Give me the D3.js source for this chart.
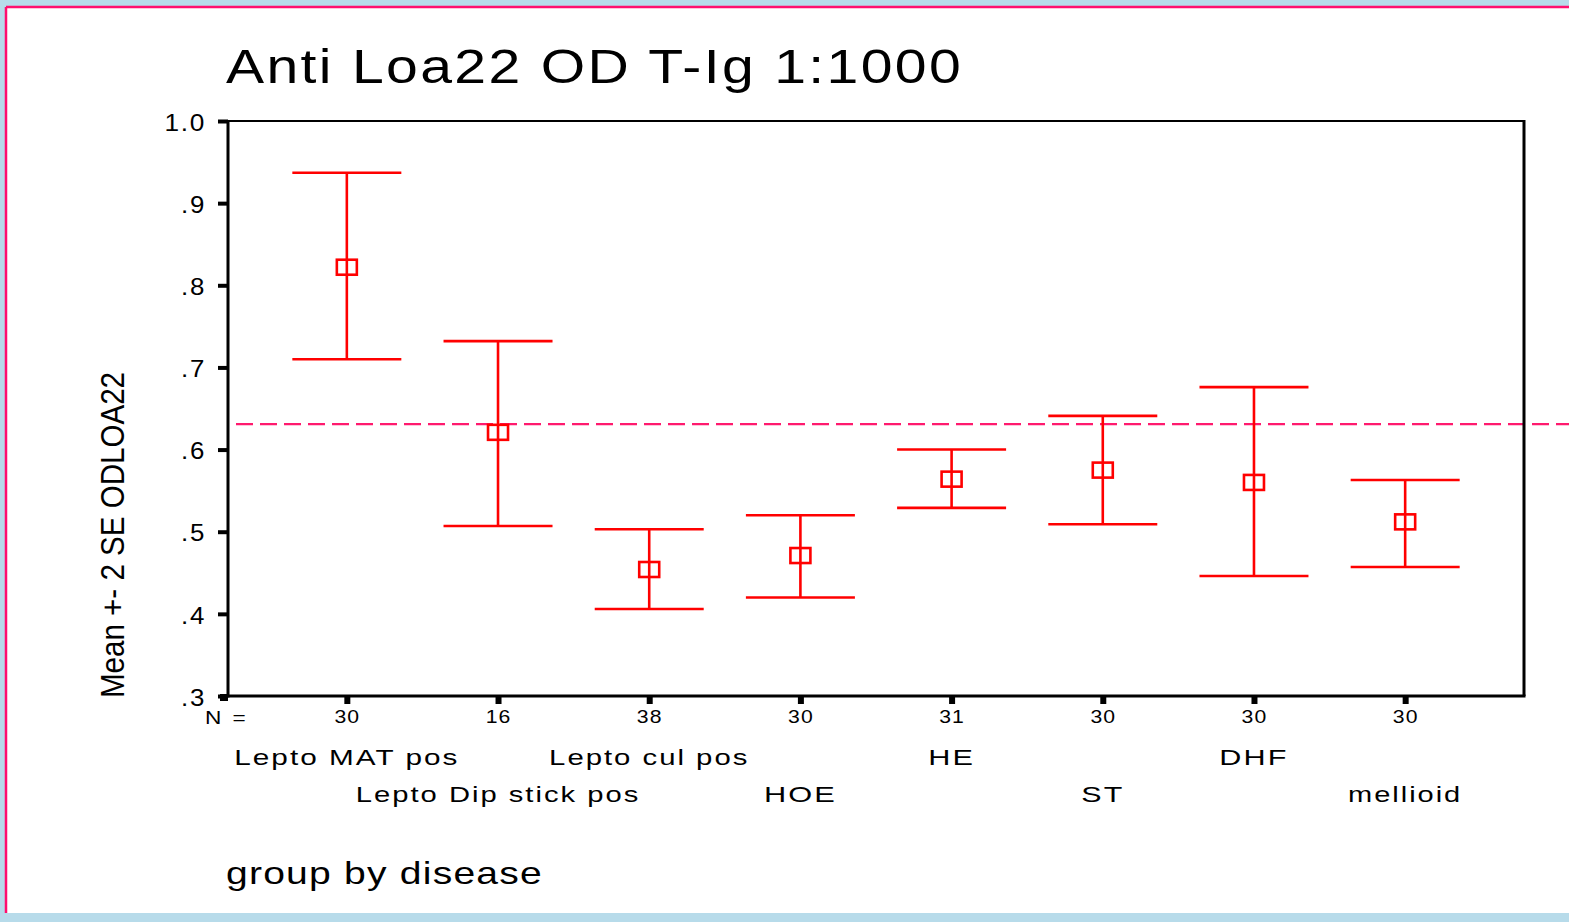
<!DOCTYPE html>
<html><head><meta charset="utf-8">
<script src="https://cdn.jsdelivr.net/npm/d3@7"></script>
<style>
html,body{margin:0;padding:0;background:#b7dbea;}
svg{display:block;}
text{font-family:"Liberation Sans",Arial,sans-serif;fill:#000;}
</style></head><body>
<svg id="c" width="1569" height="922"></svg>
<script>
const categories = ["Lepto MAT pos","Lepto Dip stick pos","Lepto cul pos","HOE","HE","ST","DHF","mellioid"];
const nValues = [30,16,38,30,31,30,30,30];
const means = [0.822,0.621,0.454,0.471,0.564,0.575,0.560,0.512];
const upper = [0.937,0.732,0.503,0.520,0.600,0.641,0.676,0.563];
const lower = [0.710,0.507,0.406,0.420,0.529,0.509,0.446,0.457];
const yTicks = [0.3,0.4,0.5,0.6,0.7,0.8,0.9,1.0];
const yTickLabels = [".3",".4",".5",".6",".7",".8",".9","1.0"];
const refLine = 0.631;
const title = "Anti Loa22 OD T-Ig 1:1000";
const xTitle = "group by disease";
const yTitle = "Mean +- 2 SE ODLOA22";

const svg = d3.select("#c");
function stretch(sel, k, ls){
  sel.each(function(){
    const w = this.getComputedTextLength();
    d3.select(this).attr("letter-spacing", ls||0).attr("textLength", w*k).attr("lengthAdjust","spacingAndGlyphs");
  });
}
// panel
svg.append("rect").attr("x",6).attr("y",7).attr("width",1563).attr("height",906).attr("fill","#fff");
svg.append("line").attr("x1",6).attr("x2",1569).attr("y1",7).attr("y2",7).attr("stroke","#ff0f6e").attr("stroke-width",2.5);
svg.append("line").attr("x1",6).attr("x2",6).attr("y1",7).attr("y2",913).attr("stroke","#ff0f6e").attr("stroke-width",2.5);

const L=228, R=1524, T=121, B=696;
const x = d3.scalePoint().domain(categories).range([L,R]).padding(0.786);
const y = d3.scaleLinear().domain([0.3,1.0]).range([B,T]);

// dashed ref line
svg.append("line").attr("x1",236).attr("x2",1569).attr("y1",y(refLine)).attr("y2",y(refLine))
  .attr("stroke","#ff1a6e").attr("stroke-width",2.3).attr("stroke-dasharray","17,7");

// frame
svg.append("line").attr("x1",L).attr("x2",R).attr("y1",T).attr("y2",T).attr("stroke","#000").attr("stroke-width",2);
svg.append("line").attr("x1",R).attr("x2",R).attr("y1",T-1).attr("y2",B).attr("stroke","#000").attr("stroke-width",3);
svg.append("line").attr("x1",L).attr("x2",L).attr("y1",T-1).attr("y2",B+1.5).attr("stroke","#000").attr("stroke-width",3);
svg.append("line").attr("x1",L).attr("x2",R+1.5).attr("y1",B).attr("y2",B).attr("stroke","#000").attr("stroke-width",3);

// y axis ticks
const yAxis = d3.axisLeft(y).tickValues(yTicks).tickSize(10).tickPadding(12)
  .tickFormat((d,i)=>yTickLabels[i]);
const gy = svg.append("g").attr("transform",`translate(${L},0)`).call(yAxis);
gy.select(".domain").remove();
gy.selectAll(".tick line").attr("stroke","#000").attr("stroke-width",4);
const yt = gy.selectAll(".tick text").attr("font-size",23).attr("font-family","Liberation Sans, Arial, sans-serif").attr("fill","#000").attr("dy","0.4em");
stretch(yt, 1.3, 1.5);

// x axis ticks
const xAxis = d3.axisBottom(x).tickSize(8).tickFormat((d,i)=>nValues[i]).tickPadding(6);
const gx = svg.append("g").attr("transform",`translate(0,${B})`).call(xAxis);
gx.select(".domain").remove();
gx.selectAll(".tick line").attr("stroke","#000").attr("stroke-width",6);
const xt = gx.selectAll(".tick text").attr("font-size",19).attr("font-family","Liberation Sans, Arial, sans-serif").attr("fill","#000");
stretch(xt, 1.22, 1);
svg.append("rect").attr("x",L-8).attr("y",B-2).attr("width",8).attr("height",7).attr("fill","#000");

svg.append("text").attr("x",205).attr("y",724).attr("font-size",19).attr("letter-spacing",2).attr("textLength",43).attr("lengthAdjust","spacingAndGlyphs").text("N =");

// category labels
const cl = svg.selectAll("text.cat").data(categories).join("text").attr("class","cat")
  .attr("x",d=>x(d)).attr("y",(d,i)=> i%2===0 ? 765 : 802)
  .attr("text-anchor","middle").attr("font-size",22).text(d=>d);
stretch(cl, 1.53, 1.5);

// error bars
const cap = 54.5;
const g = svg.append("g").attr("stroke","#ff0000").attr("stroke-width",2.6).attr("fill","none");
categories.forEach((c,i)=>{
  const cx = x(c);
  g.append("line").attr("x1",cx).attr("x2",cx).attr("y1",y(upper[i])).attr("y2",y(lower[i]));
  g.append("line").attr("x1",cx-cap).attr("x2",cx+cap).attr("y1",y(upper[i])).attr("y2",y(upper[i]));
  g.append("line").attr("x1",cx-cap).attr("x2",cx+cap).attr("y1",y(lower[i])).attr("y2",y(lower[i]));
  g.append("rect").attr("x",cx-10).attr("y",y(means[i])-7.5).attr("width",20).attr("height",15);
});

// titles
svg.append("text").attr("x",226).attr("y",83).attr("font-size",49).attr("letter-spacing",2).attr("textLength",737).attr("lengthAdjust","spacingAndGlyphs").text(title);
svg.append("text").attr("x",226).attr("y",884).attr("font-size",32).attr("letter-spacing",1).attr("textLength",317).attr("lengthAdjust","spacingAndGlyphs").text(xTitle);
svg.append("text").attr("transform","translate(124,698) rotate(-90)").attr("font-size",34)
  .attr("textLength",326).attr("lengthAdjust","spacingAndGlyphs").text(yTitle);
</script>
</body></html>
